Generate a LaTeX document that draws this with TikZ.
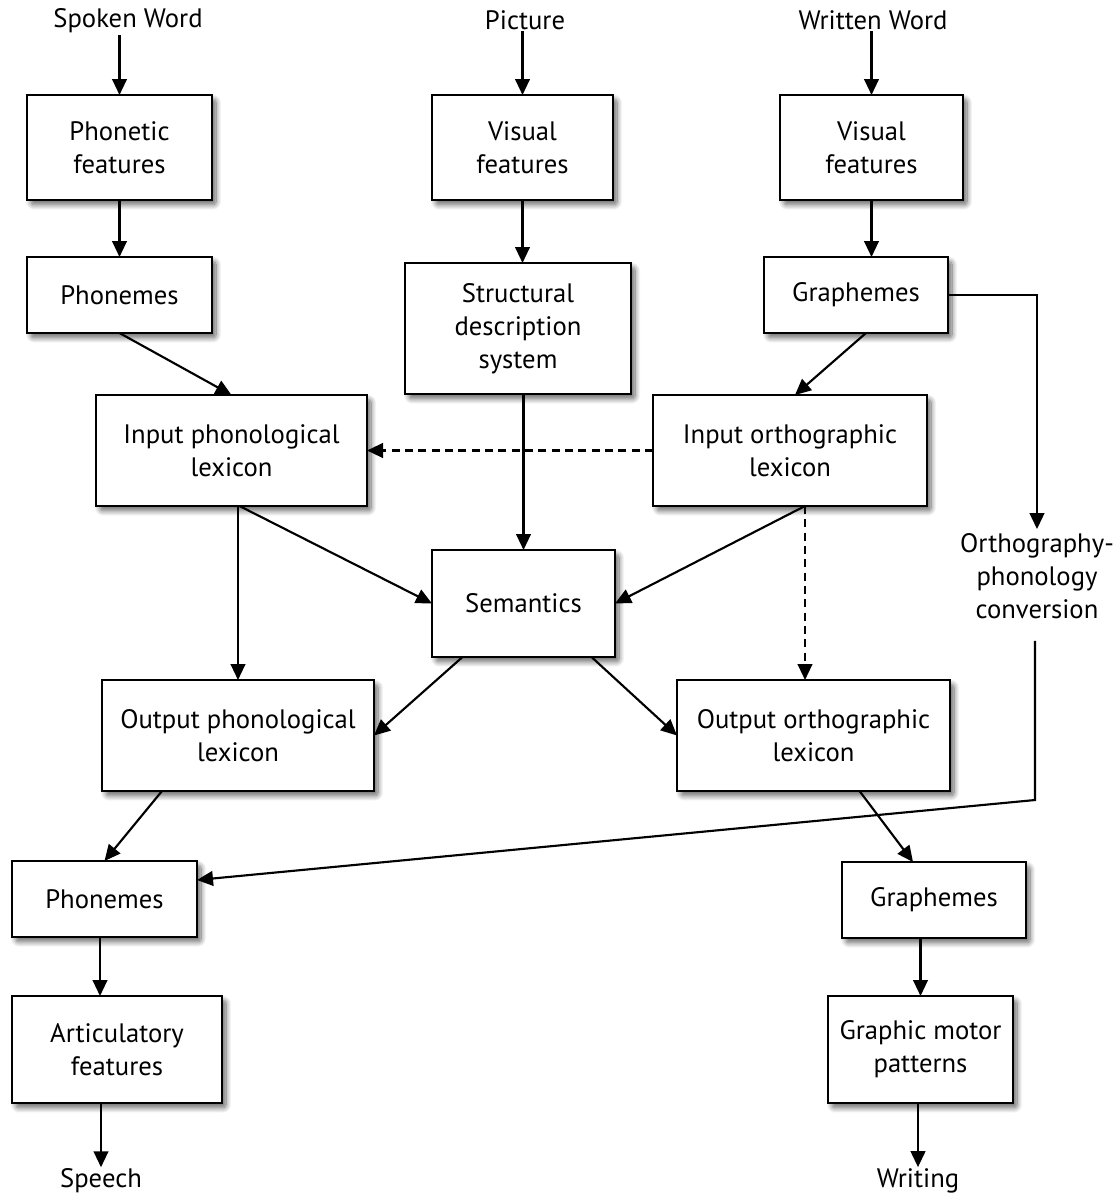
\documentclass[tikz,border=0pt]{standalone}
\usepackage{fontspec}
\setmainfont{PT Sans}
\usetikzlibrary{arrows.meta,calc,shadows.blur}
\tikzset{
  box/.style={draw=black, line width=1.8pt, fill=white, align=center, inner sep=0pt, outer sep=0pt,
    blur shadow={shadow xshift=3pt, shadow yshift=-3.5pt, shadow blur steps=10, shadow blur radius=4pt, shadow blur extra rounding=2pt, shadow opacity=60}},
  lbl/.style={align=center, inner sep=1pt},
  arr/.style={line width=1.6pt, -{Triangle[length=12pt,width=11pt]}},
  dsh/.style={arr, dash pattern=on 6pt off 4pt},
}
\newcommand\bx[6]{\node[box, minimum width={(#4-#2)*0.75pt}, minimum height={(#5-#3)*0.75pt}] (#1) at ({(#2+#4)/2},{(#3+#5)/2}) {#6};}
\begin{document}
\begin{tikzpicture}[x=0.75pt,y=-0.75pt, font=\fontsize{20}{24.75}\selectfont]
\useasboundingbox (0,0) rectangle (1120,1196);
% labels
\node[lbl] (spoken) at (128,21) {Spoken Word};
\node[lbl] (picture) at (525,20) {Picture};
\node[lbl] (written) at (873,20) {Written Word};
\node[lbl] (speech) at (101,1181) {Speech};
\node[lbl] (writing) at (918,1181) {Writing};
\node[lbl, inner sep=3pt] (conv) at (1037,576) {Orthography-\\phonology\\conversion};
% boxes
\bx{phf}{27}{95}{212}{200}{Phonetic\\features}
\bx{pht}{27}{257}{212}{333}{Phonemes}
\bx{visc}{432}{95}{613}{200}{Visual\\features}
\bx{visr}{780}{95}{963}{200}{Visual\\features}
\bx{sds}{405}{263}{631}{394}{Structural\\description\\system}
\bx{grt}{764}{257}{948}{333}{Graphemes}
\bx{inphon}{96}{395}{367}{506}{Input phonological\\lexicon}
\bx{inorth}{653}{395}{927}{506}{Input orthographic\\lexicon}
\bx{sem}{432}{550}{615}{657}{Semantics}
\bx{outphon}{102}{680}{374}{791}{Output phonological\\lexicon}
\bx{outorth}{677}{680}{950}{791}{Output orthographic\\lexicon}
\bx{phb}{12}{861}{197}{937}{Phonemes}
\bx{grb}{842}{862}{1026}{938}{Graphemes}
\bx{artic}{12}{996}{222}{1103}{Articulatory\\features}
\bx{gmp}{828}{996}{1013}{1103}{Graphic motor\\patterns}
% connectors
\draw[arr] (phf.north |- spoken.south) -- (phf.north);
\draw[arr] (visc.north |- picture.south) -- (visc.north);
\draw[arr] (visr.north |- written.south) -- (visr.north);
\draw[arr] (phf.south) -- (pht.north -| phf.south);
\draw[arr] (visc.south) -- (sds.north -| visc.south);
\draw[arr] (visr.south) -- (grt.north -| visr.south);
\draw[arr] (pht.south) -- (inphon.north);
\draw[arr] ($(grt.south)+(10,0)$) -- ($(inorth.north)+(5,0)$);
\draw[arr] (grt.east) -| (conv.north);
\draw[arr] (sds.south -| sem.north) -- (sem.north);
\draw[dsh] (inorth.west) -- (inphon.east);
\draw[arr] ($(inphon.south)+(8,0)$) -- (sem.west);
\draw[arr] (outphon.north |- inphon.south) -- (outphon.north);
\coordinate (io) at ($(inorth.south)+(15,0)$);
\draw[arr] (io) -- (sem.east);
\draw[dsh] (io) -- (io |- outorth.north);
\draw[arr] ($(sem.south)+(-61,0)$) -- (outphon.east);
\draw[arr] ($(sem.south)+(68,0)$) -- (outorth.west);
\draw[arr] ($(outphon.south)+(-76,0)$) -- (phb.north);
\coordinate (cb) at ($(conv.south)+(-2,18)$);
\coordinate (cc) at (1035,800);
\draw[arr] (cb) -- (cc) -- ($(phb.east)+(0,-19)$);
\draw[arr] ($(outorth.south)+(46,0)$) -- ($(grb.north)+(-21,0)$);
\coordinate (pa) at ($(phb.south)+(-4.5,0)$);
\draw[arr] (pa) -- (pa |- artic.north);
\draw[arr] (gmp.north |- grb.south) -- (gmp.north);
\draw[arr] (speech.north |- artic.south) -- (speech.north);
\draw[arr] (writing.north |- gmp.south) -- (writing.north);
\end{tikzpicture}
\end{document}
